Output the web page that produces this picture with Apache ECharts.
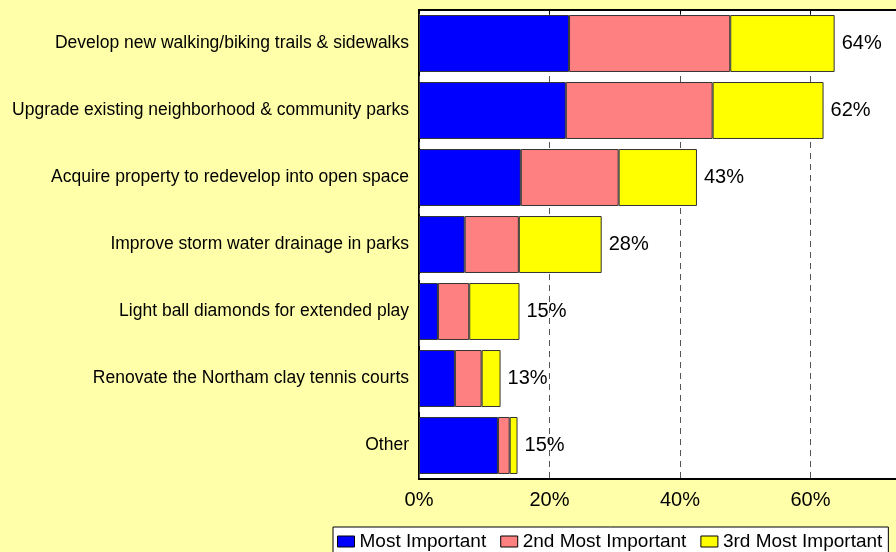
<!DOCTYPE html>
<html>
<head>
<meta charset="utf-8">
<script src="https://cdn.jsdelivr.net/npm/echarts@6/dist/echarts.min.js"></script>
<style>
  html, body { margin: 0; padding: 0; background: #FFFFAA; }
  #chart { width: 896px; height: 552px; }
</style>
</head>
<body>
<div id="chart"></div>
<script>
const categories = [
  "Develop new walking/biking trails & sidewalks",
  "Upgrade existing neighborhood & community parks",
  "Acquire property to redevelop into open space",
  "Improve storm water drainage in parks",
  "Light ball diamonds for extended play",
  "Renovate the Northam clay tennis courts",
  "Other"
];
const mostImportant = [23.0, 22.5, 15.6, 7.0, 2.9, 5.5, 12.1];
const secondImportant = [24.7, 22.5, 15.0, 8.3, 4.8, 4.1, 1.8];
const thirdImportant = [16.0, 17.0, 12.0, 12.7, 7.7, 2.9, 1.2];
const totals = [64, 62, 43, 28, 15, 13, 15];
const xTicks = [0, 20, 40, 60, 80];

var chartDom = document.getElementById("chart");
var myChart = echarts.init(chartDom);

const font = "Liberation Sans, Arial, sans-serif";
const barStyle = (color) => ({
  color: color,
  borderColor: "#333",
  borderWidth: 1,
});

var option = {
  backgroundColor: "#FFFFAA",
  animation: false,
  textStyle: { fontFamily: font, color: "#000" },
  grid: {
    left: 419,
    top: 10,
    right: -45,
    bottom: 73,
    outerBoundsMode: "none",
    containLabel: false,
    show: true,
    backgroundColor: "#fff",
    borderColor: "#000",
    borderWidth: 2,
  },
  legend: {
    left: 333,
    top: 527,
    orient: "horizontal",
    backgroundColor: "#fff",
    borderColor: "#000",
    borderWidth: 1,
    padding: [5, 6, 6, 4],
    icon: "rect",
    itemWidth: 17,
    itemHeight: 11,
    itemGap: 14,
    itemStyle: { borderColor: "#000", borderWidth: 1 },
    textStyle: { fontFamily: font, fontSize: 19, color: "#000" },
    data: ["Most Important", "2nd Most Important", "3rd Most Important"],
  },
  xAxis: [
    {
      type: "value",
      min: xTicks[0],
      max: xTicks[xTicks.length - 1],
      interval: 20,
      axisLine: { show: false },
      axisTick: { show: false },
      axisLabel: {
        formatter: "{value}%",
        fontSize: 20,
        color: "#000",
        margin: 11,
        fontFamily: font,
      },
      splitLine: {
        show: true,
        lineStyle: { color: "#555", width: 1, type: [6, 5] },
      },
    },
    {
      type: "value",
      position: "top",
      min: xTicks[0],
      max: xTicks[xTicks.length - 1],
      interval: 20,
      axisLine: { show: false },
      axisTick: { show: true, inside: true, length: 4, lineStyle: { color: "#000" } },
      axisLabel: { show: false },
      splitLine: { show: false },
    },
  ],
  yAxis: {
    type: "category",
    inverse: true,
    data: categories,
    axisLine: { show: false },
    axisTick: { show: false },
    axisLabel: {
      fontSize: 17.5,
      color: "#000",
      margin: 10,
      fontFamily: font,
    },
  },
  series: [
    {
      name: "Most Important",
      type: "bar",
      stack: "total",
      barCategoryGap: "15%",
      data: mostImportant,
      itemStyle: barStyle("#0000FF"),
    },
    {
      name: "2nd Most Important",
      type: "bar",
      stack: "total",
      data: secondImportant,
      itemStyle: barStyle("#FF8080"),
    },
    {
      name: "3rd Most Important",
      type: "bar",
      stack: "total",
      data: thirdImportant,
      itemStyle: barStyle("#FFFF00"),
      label: {
        show: true,
        position: "right",
        distance: 7,
        fontSize: 20,
        color: "#000",
        fontFamily: font,
        formatter: (p) => totals[p.dataIndex] + "%",
      },
    },
  ],
};

option && myChart.setOption(option);
</script>
</body>
</html>
